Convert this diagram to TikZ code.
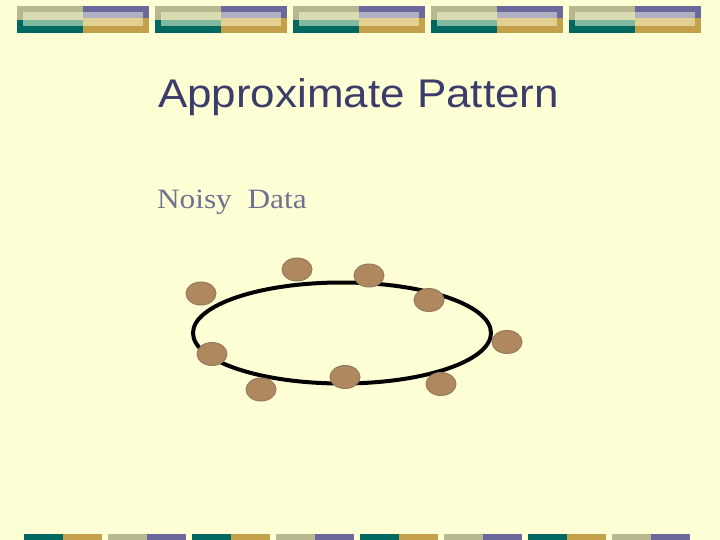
\documentclass[tikz,border=0pt]{standalone}
\usepackage{fontspec}
\setmainfont{Liberation Serif}
\setsansfont{Liberation Sans}
\usetikzlibrary{shapes.geometric}
\definecolor{slidebg}{RGB}{255,255,214}
\definecolor{khaki}{RGB}{184,184,144}
\definecolor{lkhaki}{RGB}{216,220,176}
\definecolor{plum}{RGB}{107,105,155}
\definecolor{lplum}{RGB}{176,176,194}
\definecolor{teal}{RGB}{0,104,96}
\definecolor{lteal}{RGB}{128,184,160}
\definecolor{gold}{RGB}{196,160,74}
\definecolor{lgold}{RGB}{226,208,146}
\definecolor{titleblue}{RGB}{60,60,106}
\definecolor{textgray}{RGB}{112,112,146}
\definecolor{cookie}{RGB}{176,136,94}
\definecolor{cookierim}{RGB}{150,122,96}
\tikzset{
    every node/.style={inner sep=0pt, outer sep=0pt}
}
\tikzset{
    blob/.style={ellipse, fill=cookie, draw=cookierim, line width=1pt,
        minimum width=30pt, minimum height=23pt},
    ring/.style={ellipse, draw=black, line width=4pt,
        minimum width=298pt, minimum height=101pt}
}
% one block of the top banner, left edge at #1
\newcommand{\bannerblock}[1]{
    \fill[khaki] (#1,6) rectangle ++(66,14);
    \fill[teal] (#1,20) rectangle ++(66,13);
    \fill[plum] (#1+66,6) rectangle ++(66,12.5);
    \fill[gold] (#1+66,18.5) rectangle ++(66,14.5);
    \fill[lkhaki] (#1+6,12) rectangle ++(60,8);
    \fill[lteal] (#1+6,20) rectangle ++(60,6);
    \fill[lplum] (#1+66,12) rectangle ++(60,6.5);
    \fill[lgold] (#1+66,18.5) rectangle ++(60,7.5);
}

\begin{document}
\begin{tikzpicture}[x=1pt, y=-1pt]
	\fill[slidebg] (0,0) rectangle (720,540);
	\useasboundingbox (0,0) rectangle (720,540);

	\bannerblock{17} \bannerblock{155} \bannerblock{293}
	\bannerblock{431} \bannerblock{569}

	\fill[teal] (24,534) rectangle (63,540); \fill[gold] (63,534) rectangle (102,540);
	\fill[khaki] (108,534) rectangle (147,540); \fill[plum] (147,534) rectangle (186,540);
	\fill[teal] (192,534) rectangle (231,540); \fill[gold] (231,534) rectangle (270,540);
	\fill[khaki] (276,534) rectangle (315,540); \fill[plum] (315,534) rectangle (354,540);
	\fill[teal] (360,534) rectangle (399,540); \fill[gold] (399,534) rectangle (438,540);
	\fill[khaki] (444,534) rectangle (483,540); \fill[plum] (483,534) rectangle (522,540);
	\fill[teal] (528,534) rectangle (567,540); \fill[gold] (567,534) rectangle (606,540);
	\fill[khaki] (612,534) rectangle (651,540); \fill[plum] (651,534) rectangle (690,540);

	\node (title) [anchor=base west, text=titleblue] at (158, 108)
		{\scalebox{1.1}[1]{\sffamily\fontsize{40}{48}\selectfont Approximate Pattern}};
	\node (noisy) [anchor=base west, text=textgray] at (157, 209)
		{\scalebox{1.12}[1]{\fontsize{28}{34}\selectfont Noisy\ \ Data}};

	\node (ring) [ring] at (342, 333) {};

	\node (p1) [blob] at (201, 293.5) {};
	\node (p2) [blob] at (297, 269.5) {};
	\node (p3) [blob] at (369, 275.5) {};
	\node (p4) [blob] at (429, 300) {};
	\node (p5) [blob] at (507, 342) {};
	\node (p6) [blob] at (212, 354) {};
	\node (p7) [blob] at (261, 389.5) {};
	\node (p8) [blob] at (345, 377) {};
	\node (p9) [blob] at (441, 384) {};
\end{tikzpicture}
\end{document}
